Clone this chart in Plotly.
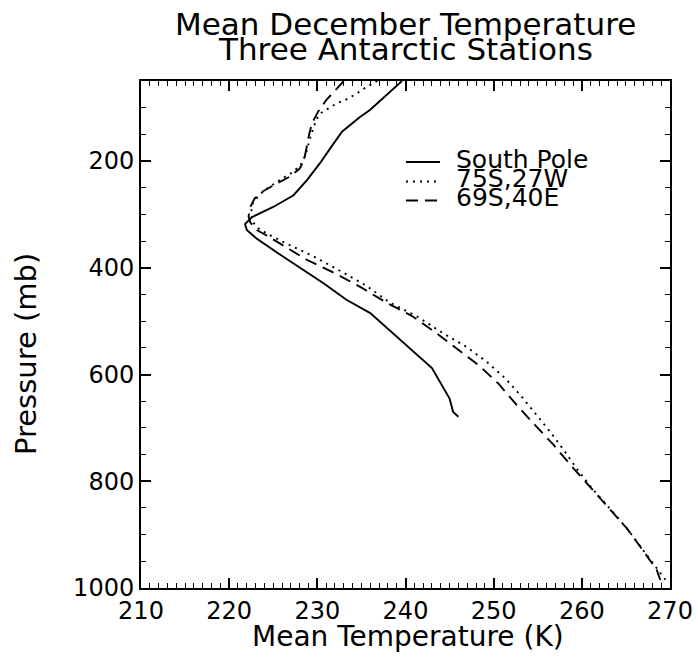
import plotly.graph_objects as go

# South Pole (solid)
sp_temp = [239.6, 238.3, 237.1, 236.0, 234.8, 233.7, 232.8, 231.6, 230.3, 228.8, 227.3, 225.0, 222.6, 221.8, 222.0, 223.1, 226.1, 230.7, 233.3, 236.0, 240.1, 243.0, 245.0, 245.4, 246.0]
sp_pres = [50, 70, 89, 104, 118, 132, 145, 173, 204, 236, 264, 286, 305, 318, 329, 345, 379, 429, 460, 485, 546, 588, 645, 670, 679]

# 75S,27W (dotted)
s75_temp = [236.8, 235.5, 234.6, 233.5, 232.2, 231.3, 230.4, 229.9, 229.6, 229.3, 229.0, 228.7, 228.2, 227.3, 226.0, 224.6, 223.5, 222.7, 222.5, 222.6, 223.2, 224.5, 226.8, 229.5, 232.5, 235.5, 238.2, 241.3, 244.3, 246.9, 249.2, 251.3, 253.0, 254.7, 256.4, 258.1, 259.4, 261.0, 263.0, 265.1, 266.9, 268.5, 269.5]
s75_pres = [50, 62, 72, 83, 92, 101, 110, 122, 135, 150, 168, 187, 205, 220, 233, 248, 262, 278, 295, 312, 325, 338, 357, 378, 405, 433, 465, 491, 523, 548, 576, 607, 638, 673, 707, 745, 776, 810, 849, 888, 928, 962, 985]

# 69S,40E (dashed)
s69_temp = [233.0, 232.0, 231.0, 230.1, 229.4, 229.1, 228.8, 228.5, 228.0, 226.9, 225.4, 223.9, 222.9, 222.4, 222.2, 222.4, 223.1, 224.3, 226.5, 228.8, 232.2, 235.0, 237.7, 240.7, 243.3, 246.0, 248.4, 250.6, 252.6, 254.7, 256.8, 258.9, 260.9, 263.0, 265.1, 266.95, 268.5, 268.9]
s69_pres = [50, 68, 86, 107, 129, 148, 176, 198, 214, 229, 242, 256, 270, 286, 304, 315, 329, 340, 362, 385, 412, 437, 464, 490, 520, 553, 584, 618, 657, 695, 732, 773, 810, 849, 888, 930, 966, 985]

series_names = ["South Pole", "75S,27W", "69S,40E"]
series_dash = ["solid", "2px,5px", "12px,7px"]

x_ticks = [210, 220, 230, 240, 250, 260, 270]
y_ticks = [200, 400, 600, 800, 1000]

FONT = "DejaVu Sans"
# plot frame in pixels
L, R, T, B = 141, 670, 81, 588
W, H = 698, 660
PW, PH = R - L, B - T


def px_x(p):
    return (p - L) / PW


def px_y(p):
    return (B - p) / PH


fig = go.Figure()
for (xs, ys), name, dash in zip([(sp_temp, sp_pres), (s75_temp, s75_pres), (s69_temp, s69_pres)],
                                series_names, series_dash):
    fig.add_trace(go.Scatter(x=xs, y=ys, mode="lines", name=name, showlegend=False,
                             line=dict(color="black", width=1.9, dash=dash)))

axis_common = dict(
    showgrid=False, zeroline=False, showline=True, linecolor="black", linewidth=2,
    mirror="allticks", ticks="inside", ticklen=10, tickwidth=1.5, tickcolor="black",
    tickfont=dict(family=FONT, size=24, color="black"), automargin=False,
)

fig.update_xaxes(
    range=[210, 270], tickvals=x_ticks, ticktext=[str(v) for v in x_ticks],
    minor=dict(dtick=1, ticks="inside", ticklen=5, tickwidth=1.2, tickcolor="black"),
    **axis_common,
)
fig.update_yaxes(
    range=[1000, 50], tickvals=y_ticks, ticktext=[str(v) for v in y_ticks],
    minor=dict(tick0=0, dtick=50, ticks="inside", ticklen=5, tickwidth=1.2, tickcolor="black"),
    **axis_common,
)

# Axis titles
fig.add_annotation(text="Mean Temperature (K)", xref="paper", yref="paper",
                   x=px_x(408), y=px_y(636), xanchor="center", yanchor="middle",
                   showarrow=False, font=dict(family=FONT, size=28, color="black"))
fig.add_annotation(text="Pressure (mb)", xref="paper", yref="paper", textangle=-90,
                   x=px_x(26), y=px_y(354), xanchor="center", yanchor="middle",
                   showarrow=False, font=dict(family=FONT, size=29, color="black"))

# Title (two tight lines)
fig.add_annotation(text="Mean December Temperature", xref="paper", yref="paper",
                   x=0.5, y=px_y(24.5), xanchor="center", yanchor="middle",
                   showarrow=False, font=dict(family=FONT, size=31, color="black"))
fig.add_annotation(text="Three Antarctic Stations", xref="paper", yref="paper",
                   x=0.5, y=px_y(49), xanchor="center", yanchor="middle",
                   showarrow=False, font=dict(family=FONT, size=31, color="black"))

# Legend (drawn inside the plot, tight rows like the original)
legend_rows = [162, 181.5, 200.5]
for name, dash, ry in zip(series_names, series_dash, legend_rows):
    fig.add_shape(type="line", xref="paper", yref="paper",
                  x0=px_x(406), x1=px_x(440), y0=px_y(ry), y1=px_y(ry),
                  line=dict(color="black", width=1.9, dash=dash))
    fig.add_annotation(text=name, xref="paper", yref="paper",
                       x=px_x(454), y=px_y(ry), xanchor="left", yanchor="middle",
                       yshift=3, showarrow=False,
                       font=dict(family=FONT, size=25, color="black"))

fig.update_layout(
    width=W, height=H,
    margin=dict(l=L, r=W - R, t=T, b=H - B),
    plot_bgcolor="white", paper_bgcolor="white",
    showlegend=False,
)

fig.write_html(
    "out.html",
    config={"displayModeBar": False},
    post_script="document.body.style.margin='0px';document.body.style.overflow='hidden';",
)
